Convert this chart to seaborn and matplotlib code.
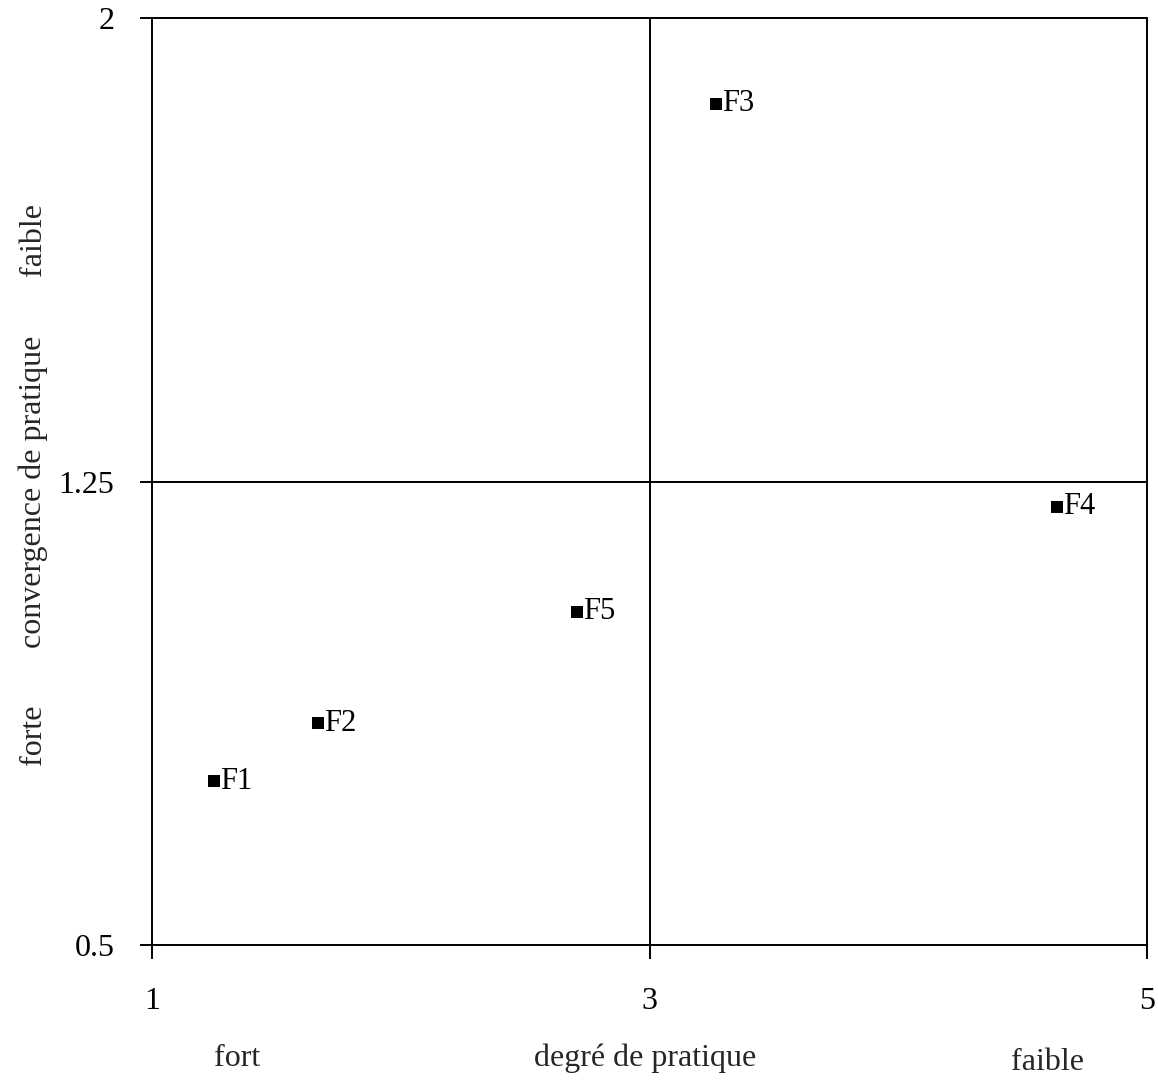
import matplotlib
matplotlib.use("Agg")
import matplotlib.pyplot as plt
import seaborn as sns
import pandas as pd

labels = ["F1", "F2", "F3", "F4", "F5"]
degre = [1.25, 1.667, 3.267, 4.638, 2.709]
convergence = [0.765, 0.859, 1.861, 1.209, 1.039]

x_ticks = [1, 3, 5]
x_ticklabels = ["1", "3", "5"]
y_ticks = [0.5, 1.25, 2]
y_ticklabels = ["0.5", "1.25", "2"]

sns.set_style("white")
plt.rcParams['font.family'] = ['Liberation Serif', 'DejaVu Serif']

df = pd.DataFrame({"label": labels, "x": degre, "y": convergence})

fig = plt.figure(figsize=(11.58, 10.83), dpi=100)
ax = fig.add_axes([0.1313, 0.1274, 0.8592, 0.856])

ax.axvline(3, color="black", lw=1.4, zorder=1)
ax.axhline(1.25, color="black", lw=1.4, zorder=1)

sns.scatterplot(data=df, x="x", y="y", marker="s", color="black", s=75,
                edgecolor="black", linewidth=0, ax=ax, zorder=3, legend=False)
for lab, xv, yv in zip(labels, degre, convergence):
    ax.text(xv + 0.025, yv, lab, fontsize=22, va="center", ha="left", color="black")

ax.set_xlim(1, 5)
ax.set_ylim(0.5, 2)
ax.set_xticks(x_ticks)
ax.set_xticklabels(x_ticklabels)
ax.set_yticks(y_ticks)
ax.set_yticklabels(y_ticklabels)
ax.tick_params(axis="both", which="major", labelsize=23, width=1.4,
               color="black", labelcolor="black", bottom=True, left=True)
ax.tick_params(axis="x", direction="out", length=10, pad=20)
ax.tick_params(axis="y", direction="out", length=9, pad=18)
for sp in ax.spines.values():
    sp.set_visible(True)
    sp.set_color("black")
    sp.set_linewidth(1.4)
ax.set_xlabel("")
ax.set_ylabel("")
ax.grid(False)

# x-axis descriptive labels
fig.text(237 / 1158, 1 - 1058 / 1083, "fort", fontsize=23, ha="center", va="center")
fig.text(645 / 1158, 1 - 1058 / 1083, "degré de pratique", fontsize=23, ha="center", va="center")
fig.text(1048 / 1158, 1 - 1062 / 1083, "faible", fontsize=23, ha="center", va="center")
# y-axis descriptive labels
fig.text(33 / 1158, 1 - 735 / 1083, "forte", fontsize=23, ha="center", va="center", rotation=90)
fig.text(33 / 1158, 1 - 492 / 1083, "convergence de pratique", fontsize=23, ha="center", va="center", rotation=90)
fig.text(33 / 1158, 1 - 240 / 1083, "faible", fontsize=23, ha="center", va="center", rotation=90)

fig.savefig("out.png", dpi=100, facecolor="white")
